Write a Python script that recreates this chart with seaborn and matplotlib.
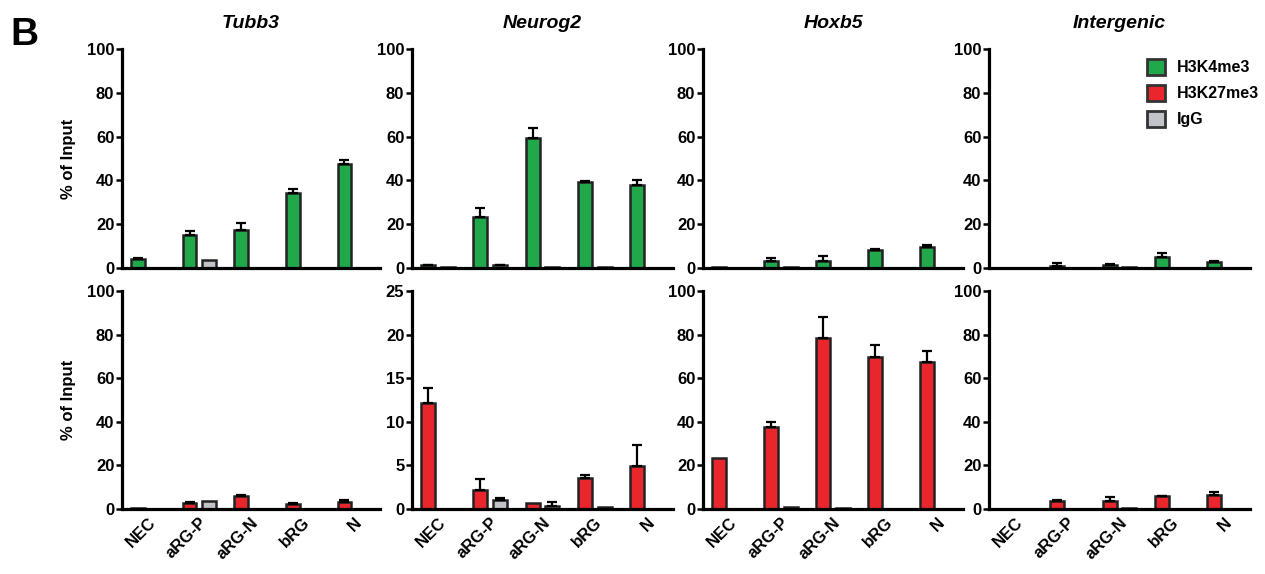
#!/usr/bin/env python3

import numpy as np
import pandas as pd
import seaborn as sns
from matplotlib import pyplot as plt
from matplotlib.patches import Patch

# stages on the x axis
categories = ['NEC', 'aRG-P', 'aRG-N', 'bRG', 'N']
genes = ['Tubb3', 'Neurog2', 'Hoxb5', 'Intergenic']

# top row: H3K4me3 and IgG (% of input), upward error bars
k4_values = {
    'Tubb3': [4.2, 15.2, 17.5, 34.1, 47.6],
    'Neurog2': [1.2, 23.2, 59.2, 39.2, 37.8],
    'Hoxb5': [0.3, 3.4, 3.4, 8.2, 9.6],
    'Intergenic': [0.2, 0.9, 1.3, 5.2, 2.7],
}
k4_errors = {
    'Tubb3': [0.4, 1.6, 3.0, 2.2, 1.9],
    'Neurog2': [0.3, 4.0, 4.9, 0.3, 2.5],
    'Hoxb5': [0.0, 1.2, 1.9, 0.3, 1.1],
    'Intergenic': [0.0, 1.5, 0.4, 1.8, 0.3],
}
k4_igg_values = {
    'Tubb3': [0.1, 3.5, 0.1, 0.1, 0.0],
    'Neurog2': [0.5, 1.2, 0.5, 0.3, 0.0],
    'Hoxb5': [0.1, 0.5, 0.2, 0.0, 0.0],
    'Intergenic': [0.2, 0.0, 0.5, 0.0, 0.0],
}
k4_igg_errors = {
    'Tubb3': [0.0, 0.0, 0.0, 0.0, 0.0],
    'Neurog2': [0.0, 0.2, 0.0, 0.0, 0.0],
    'Hoxb5': [0.0, 0.0, 0.0, 0.0, 0.0],
    'Intergenic': [0.0, 0.0, 0.0, 0.0, 0.0],
}

# bottom row: H3K27me3 and IgG
k27_values = {
    'Tubb3': [0.4, 2.9, 6.0, 2.3, 3.2],
    'Neurog2': [12.1, 2.2, 0.7, 3.5, 4.9],
    'Hoxb5': [23.2, 37.7, 78.3, 69.5, 67.3],
    'Intergenic': [0.2, 3.5, 3.7, 5.8, 6.4],
}
k27_errors = {
    'Tubb3': [0.0, 0.5, 0.3, 0.5, 0.9],
    'Neurog2': [1.8, 1.25, 0.0, 0.35, 2.4],
    'Hoxb5': [0.0, 2.1, 9.6, 5.9, 5.4],
    'Intergenic': [0.0, 0.5, 1.6, 0.3, 1.4],
}
k27_igg_values = {
    'Tubb3': [0.2, 3.5, 0.0, 0.2, 0.2],
    'Neurog2': [0.05, 1.07, 0.3, 0.2, 0.0],
    'Hoxb5': [0.0, 0.7, 0.3, 0.0, 0.0],
    'Intergenic': [0.2, 0.1, 0.5, 0.0, 0.0],
}
k27_igg_errors = {
    'Tubb3': [0.0, 0.0, 0.0, 0.0, 0.0],
    'Neurog2': [0.0, 0.2, 0.45, 0.0, 0.0],
    'Hoxb5': [0.0, 0.0, 0.0, 0.0, 0.0],
    'Intergenic': [0.0, 0.0, 0.0, 0.0, 0.0],
}

# y-axis upper limits per panel (bottom Neurog2 uses 0-25)
top_ylim = [100, 100, 100, 100]
bottom_ylim = [100, 25, 100, 100]

colors = {'H3K4me3': '#21a84a', 'H3K27me3': '#e8262b', 'IgG': '#c2c3c6'}
EDGE = '#222222'
TICK_SIZE = 12


def draw_panel(ax, mark, vals, errs, igg_vals, igg_errs, ymax):
    df = pd.DataFrame({
        'stage': categories * 2,
        'antibody': [mark] * len(categories) + ['IgG'] * len(categories),
        'value': list(vals) + list(igg_vals),
    })
    sns.barplot(
        data=df, x='stage', y='value', hue='antibody',
        hue_order=[mark, 'IgG'], order=categories,
        palette=colors, saturation=1, width=0.76, gap=0.3,
        errorbar=None, edgecolor=EDGE, linewidth=1.8,
        legend=False, ax=ax,
    )
    # upward-only error bars at the bar centres
    for container, v, e in zip(ax.containers, [vals, igg_vals],
                               [errs, igg_errs]):
        xs = [b.get_x() + b.get_width() / 2 for b in container]
        xs, v, e = np.array(xs), np.array(v), np.array(e)
        keep = e > 0
        if keep.any():
            ax.errorbar(
                xs[keep], v[keep],
                yerr=[np.zeros(keep.sum()), e[keep]],
                fmt='none', ecolor='black', elinewidth=1.6,
                capsize=3.5, capthick=1.6, zorder=3,
            )
    ax.set_ylim(0, ymax)
    step = 5 if ymax == 25 else 20
    ax.set_yticks(np.arange(0, ymax + 1, step))
    ax.set_xlim(-0.5, len(categories) - 0.5)
    ax.set_xlabel('')
    ax.set_ylabel('')
    for side in ['top', 'right']:
        ax.spines[side].set_visible(False)
    for side in ['left', 'bottom']:
        ax.spines[side].set_linewidth(2.3)
        ax.spines[side].set_color('black')
    ax.tick_params(axis='y', length=4, width=1.8, pad=1.5,
                   labelsize=TICK_SIZE, colors='black')
    ax.tick_params(axis='x', length=0, pad=4, labelsize=TICK_SIZE,
                   colors='black')
    for lab in ax.get_yticklabels():
        lab.set_fontweight('bold')


sns.set_style('ticks')
plt.rcParams['font.family'] = ['Liberation Sans', 'DejaVu Sans']
plt.rcParams['font.weight'] = 'bold'
plt.rcParams['text.color'] = 'black'
plt.rcParams['axes.labelcolor'] = 'black'

W, H = 1265, 574
fig = plt.figure(figsize=(W / 100, H / 100), dpi=100)

lefts = [122, 412, 703, 989]
rights = [380, 673, 963, 1250]
rows = [(49, 268), (291, 509)]

for r, (top, bottom) in enumerate(rows):
    for c, gene in enumerate(genes):
        ax = fig.add_axes([
            lefts[c] / W, 1 - bottom / H,
            (rights[c] - lefts[c]) / W, (bottom - top) / H,
        ])
        if r == 0:
            draw_panel(ax, 'H3K4me3', k4_values[gene], k4_errors[gene],
                       k4_igg_values[gene], k4_igg_errors[gene],
                       top_ylim[c])
            ax.set_xticklabels([])
            ax.set_title(gene, fontsize=14, fontstyle='italic',
                         fontweight='bold', pad=15, color='black')
        else:
            draw_panel(ax, 'H3K27me3', k27_values[gene], k27_errors[gene],
                       k27_igg_values[gene], k27_igg_errors[gene],
                       bottom_ylim[c])
            ax.set_xticks(range(len(categories)))
            ax.set_xticklabels(categories, rotation=45, ha='right',
                               rotation_mode='anchor', fontweight='bold')
        if c == 0:
            ax.set_ylabel('% of Input', fontsize=12, fontweight='bold',
                          labelpad=8)
        if r == 0 and c == 3:
            handles = [
                Patch(facecolor=colors[k], edgecolor='#333333',
                      linewidth=2, label=k)
                for k in ['H3K4me3', 'H3K27me3', 'IgG']
            ]
            fig.legend(
                handles=handles, loc='upper left',
                bbox_to_anchor=(1147 / W, 1 - 59 / H),
                frameon=False, borderpad=0, borderaxespad=0,
                handlelength=1.15, handleheight=1.15, handletextpad=0.7,
                labelspacing=0.6, prop={'size': 11.5, 'weight': 'bold'},
            )

fig.text(24 / W, 1 - 35 / H, 'B', fontsize=28, fontweight='bold',
         ha='center', va='center', color='black')

fig.savefig('out.png', dpi=100)
